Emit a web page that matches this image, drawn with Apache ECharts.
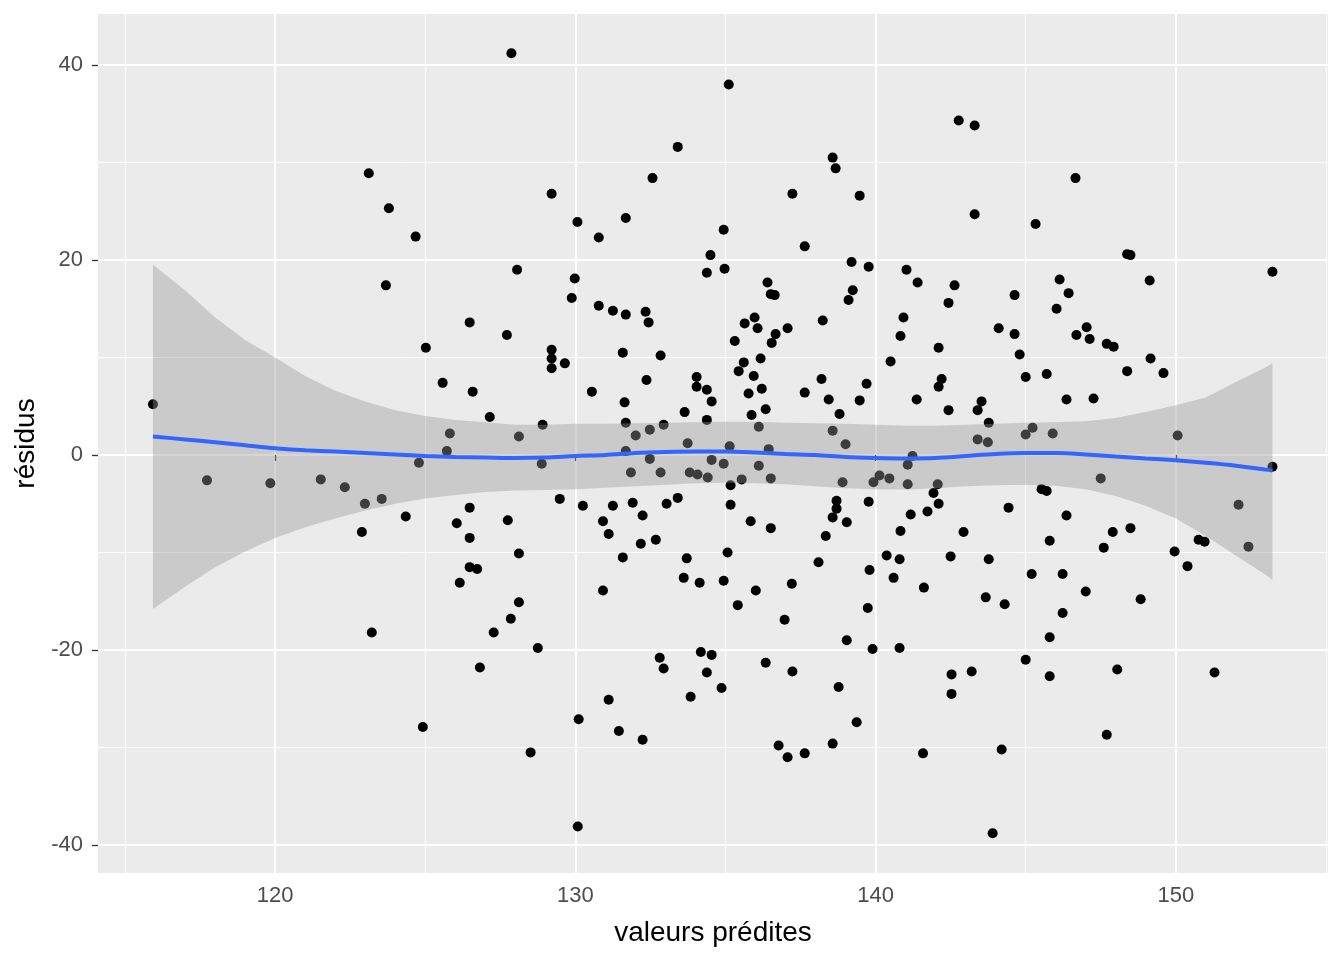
<!DOCTYPE html>
<html>
<head>
<meta charset="utf-8">
<title>résidus vs valeurs prédites</title>
<script src="https://cdn.jsdelivr.net/npm/echarts@6/dist/echarts.min.js"></script>
<style>
  html, body { margin: 0; padding: 0; background: #ffffff; }
  #chart { width: 1344px; height: 960px; }
</style>
</head>
<body>
<div id="chart"></div>
<script>
// valeurs predites (x) et residus (y)
var predites = [
  115.93, 117.73, 119.84, 121.52, 122.32, 122.99, 123.55, 122.89, 123.22, 123.12,
  123.79, 123.69, 124.68, 124.35, 124.79, 124.92, 125.02, 125.58, 125.72, 125.82,
  126.05, 126.15, 126.48, 126.48, 126.48, 126.48, 126.58, 126.73, 126.82, 127.15,
  127.28, 127.72, 127.75, 127.85, 127.87, 128.06, 128.12, 128.12, 128.12, 128.51,
  128.75, 128.88, 128.91, 129.21, 129.21, 129.21, 129.21, 129.48, 129.65, 129.88,
  129.98, 130.07, 130.08, 130.11, 130.25, 130.55, 130.78, 130.78, 130.92, 130.92,
  131.11, 131.11, 131.25, 131.25, 131.45, 131.58, 131.58, 131.64, 131.68, 131.68,
  131.68, 131.68, 131.85, 131.91, 132.01, 132.18, 132.24, 132.24, 132.34, 132.37,
  132.44, 132.48, 132.48, 132.57, 132.68, 132.81, 132.84, 132.84, 132.94, 132.94,
  133.04, 133.41, 133.41, 133.61, 133.64, 133.71, 133.74, 133.81, 133.84, 134.04,
  134.04, 134.07, 134.14, 134.18, 134.38, 134.38, 134.38, 134.38, 134.41, 134.50,
  134.54, 134.54, 134.54, 134.87, 134.94, 134.94, 134.94, 134.97, 135.07, 135.11,
  135.14, 135.17, 135.17, 135.31, 135.41, 135.44, 135.54, 135.61, 135.64, 135.77,
  135.84, 135.87, 135.94, 135.97, 136.01, 136.07, 136.11, 136.11, 136.17, 136.21,
  136.34, 136.34, 136.40, 136.44, 136.51, 136.51, 136.51, 136.54, 136.64, 136.67,
  136.77, 136.97, 137.07, 137.07, 137.21, 137.23, 137.23, 137.64, 137.64, 137.64,
  138.10, 138.20, 138.24, 138.34, 138.44, 138.57, 138.57, 138.57, 138.57, 138.67,
  138.70, 138.70, 138.77, 138.80, 138.90, 139.00, 139.04, 139.04, 139.10, 139.20,
  139.24, 139.37, 139.47, 139.47, 139.70, 139.74, 139.77, 139.77, 139.80, 139.90,
  139.93, 140.13, 140.37, 140.46, 140.50, 140.60, 140.80, 140.80, 140.83, 140.83,
  140.93, 141.03, 141.07, 141.07, 141.17, 141.23, 141.37, 141.40, 141.58, 141.61,
  141.73, 141.93, 142.07, 142.10, 142.10, 142.10, 142.20, 142.43, 142.43, 142.50,
  142.53, 142.53, 142.63, 142.77, 142.93, 143.20, 143.30, 143.30, 143.40, 143.40,
  143.53, 143.67, 143.74, 143.77, 143.77, 143.90, 144.10, 144.20, 144.30, 144.43,
  144.63, 144.63, 144.80, 145.00, 145.00, 145.00, 145.20, 145.23, 145.33, 145.53,
  145.70, 145.70, 145.80, 145.80, 145.80, 145.90, 146.03, 146.13, 146.23, 146.23,
  146.36, 146.36, 146.43, 146.66, 146.69, 147.00, 147.03, 147.13, 147.26, 147.50,
  147.60, 147.70, 147.70, 147.90, 147.93, 148.05, 148.38, 148.38, 148.49, 148.49,
  148.83, 149.13, 149.16, 149.59, 149.96, 150.06, 150.39, 150.76, 150.96, 151.29,
  152.09, 152.42, 153.22, 153.22
];
var residus = [
  5.2, -2.6, -2.9, -2.5, -3.3, -5.0, -4.5, -7.9, -18.2, 28.9,
  25.3, 17.4, 22.4, -6.3, -0.8, -27.9, 11.0, 7.4, 0.4, 2.2,
  -7.0, -13.1, 13.6, -5.4, -8.5, -11.5, 6.5, -11.7, -21.8, 3.9,
  -18.2, 12.3, -6.7, -16.8, 41.2, 19.0, 1.9, -10.1, -15.1, -30.5,
  -19.8, -0.9, 3.1, 26.8, 10.8, 9.9, 8.9, -4.5, 9.4, 16.1,
  18.1, 23.9, -38.1, -27.1, -5.2, 6.5, 22.3, 15.3, -6.8, -13.9,
  -8.1, -25.1, 14.8, -5.2, -28.3, 10.5, -10.5, 5.4, 24.3, 14.4,
  3.3, 0.4, -1.8, -4.9, 2.0, -9.1, -6.2, -29.2, 14.7, 7.7,
  13.6, 2.6, -0.4, 28.4, -8.7, -20.8, 10.2, -1.8, 3.1, -21.9,
  -5.0, 31.6, -4.4, -12.6, 4.4, -10.6, 1.2, -1.8, -24.8, 8.0,
  7.0, -2.0, -13.1, -20.2, 18.7, 6.7, 3.6, -22.3, -2.3, 20.5,
  5.5, -0.5, -20.5, -23.9, 23.1, -0.9, -12.9, 19.1, -10.0, 38.0,
  0.9, -3.1, -5.1, 11.7, -15.4, 8.6, -2.5, 9.5, 13.5, 6.3,
  -6.8, 4.1, 8.1, 14.1, -13.9, 13.0, 2.9, -1.1, 9.9, 6.8,
  4.7, -21.3, 17.7, 0.6, 16.5, -2.4, -7.5, 11.5, 16.4, 12.4,
  -29.8, -16.9, 13.0, -31.0, -13.2, 26.8, -22.2, 21.4, 6.4, -30.6,
  -11.0, 7.8, 13.8, -8.3, 5.7, 30.5, 2.5, -6.4, -29.6, 29.4,
  -4.7, -5.5, -23.8, 4.2, -2.8, 1.1, -6.9, -19.0, 15.9, 19.8,
  16.9, -27.4, 26.6, 5.6, 7.3, -15.7, 19.3, -4.8, -11.8, -19.9,
  -2.8, -2.1, -10.3, -2.4, 9.6, -12.6, -10.7, -19.8, 12.2, -7.8,
  14.1, 19.0, -1.0, -3.0, -6.1, -0.1, 5.7, 17.7, -30.6, -13.6,
  -5.8, -3.9, -3.0, 11.0, 7.0, -5.0, 7.8, 15.6, 4.6, -10.4,
  -22.5, -24.5, 17.4, 34.3, -7.9, -22.2, 33.8, 24.7, 4.6, 1.6,
  5.5, -14.6, 1.3, 3.3, -10.7, -38.8, 13.0, -30.2, -15.3, -5.4,
  16.4, 12.4, 10.3, 8.0, 2.1, -21.0, -12.2, 2.8, 23.7, -3.5,
  8.3, -3.7, -8.8, -18.7, -22.7, 2.2, 15.0, 18.0, -12.2, -16.2,
  5.7, -6.2, 16.6, 28.4, 12.3, -14.0, 13.1, 11.9, 5.8, -2.4,
  -9.5, 11.4, -28.7, -7.9, 11.1, -22.0, 20.6, 8.6, 20.5, -7.5,
  -14.8, 17.9, 9.9, 8.4, -9.9, 2.0, -11.4, -8.7, -8.9, -22.3,
  -5.1, -9.4, 18.8, -1.2
];

// courbe loess et son intervalle de confiance
var lissX = [115.93, 117, 118, 119, 120, 121, 122, 123, 124, 125, 126, 127, 128, 129, 130, 131, 132, 133, 134, 135,
  136, 137, 138, 139, 140, 141, 142, 143, 144, 145, 146, 147, 148, 149, 150, 151, 152, 153, 153.22];
var lissY = [1.9, 1.6, 1.3, 1.0, 0.7, 0.5, 0.35, 0.2, 0.05, -0.1, -0.2, -0.25, -0.3, -0.25, -0.1, 0.0, 0.2, 0.3, 0.35, 0.35,
  0.25, 0.1, 0.0, -0.2, -0.3, -0.35, -0.3, -0.1, 0.1, 0.2, 0.2, 0.05, -0.15, -0.35, -0.55, -0.8, -1.1, -1.5, -1.6];
var bandeHaut = [19.5, 16.9, 14.1, 11.8, 10.0, 8.1, 6.6, 5.5, 4.6, 4.0, 3.6, 3.35, 3.1, 3.1, 3.2, 3.2, 3.25, 3.3, 3.35, 3.4,
  3.4, 3.3, 3.25, 3.2, 3.1, 3.0, 3.0, 3.1, 3.2, 3.3, 3.35, 3.45, 3.8, 4.4, 5.1, 5.9, 7.5, 9.0, 9.4];
var bandeBas = [-15.8, -13.5, -11.5, -9.9, -8.5, -7.4, -6.5, -5.7, -5.0, -4.45, -4.1, -3.8, -3.65, -3.6, -3.5, -3.35, -3.2, -3.05, -2.9, -2.85,
  -2.9, -3.0, -3.2, -3.4, -3.5, -3.55, -3.4, -3.2, -3.1, -3.05, -3.15, -3.5, -4.2, -5.2, -6.5, -8.3, -10.3, -12.3, -12.8];

// graduations
var xMajeur = [120, 130, 140, 150];
var xMineur = [115, 125, 135, 145, 155];
var yMajeur = [-40, -20, 0, 20, 40];
var yMineur = [-30, -10, 10, 30];

var FONT = '"Liberation Sans", Arial, sans-serif';
var X_MIN = 114.1, X_MAX = 155.07;
var Y_MIN = -42.87, Y_MAX = 45.23;

var points = predites.map(function(x, i) { return [x, residus[i]]; });
var courbe = lissX.map(function(x, i) { return [x, lissY[i]]; });

function axeX(valeurs, majeur) {
  return {
    type: 'value', min: X_MIN, max: X_MAX, position: 'bottom',
    name: majeur ? 'valeurs prédites' : '', nameLocation: 'middle', nameGap: 46,
    nameTextStyle: {fontFamily: FONT, fontSize: 28, color: '#000000'},
    axisLine: {show: false},
    axisTick: {show: majeur, customValues: valeurs, length: 6, lineStyle: {color: '#333333', width: 1.3}},
    axisLabel: {show: majeur, customValues: valeurs, margin: 12, fontFamily: FONT, fontSize: 22, color: '#4D4D4D'},
    splitLine: {show: true, lineStyle: {color: '#FFFFFF', width: majeur ? 2 : 1}},
    minorSplitLine: {show: false}
  };
}

function axeY(valeurs, majeur) {
  return {
    type: 'value', min: Y_MIN, max: Y_MAX, position: 'left',
    name: majeur ? 'résidus' : '', nameLocation: 'middle', nameGap: 58, nameRotate: 90,
    nameTextStyle: {fontFamily: FONT, fontSize: 28, color: '#000000'},
    axisLine: {show: false},
    axisTick: {show: majeur, customValues: valeurs, length: 6, lineStyle: {color: '#333333', width: 1.3}},
    axisLabel: {show: majeur, customValues: valeurs, margin: 15, fontFamily: FONT, fontSize: 22, color: '#4D4D4D'},
    splitLine: {show: true, lineStyle: {color: '#FFFFFF', width: majeur ? 2 : 1}},
    minorSplitLine: {show: false}
  };
}

var chart = echarts.init(document.getElementById('chart'), null, {renderer: 'canvas'});
chart.setOption({
  animation: false,
  backgroundColor: '#FFFFFF',
  grid: {left: 98, right: 16, top: 14, bottom: 87, show: true, backgroundColor: '#EBEBEB', borderWidth: 0},
  xAxis: [axeX(xMajeur, true), axeX(xMineur, false)],
  yAxis: [axeY(yMajeur, true), axeY(yMineur, false)],
  series: [
    {
      type: 'scatter', xAxisIndex: 0, yAxisIndex: 0, z: 2,
      data: points, symbol: 'circle', symbolSize: 10,
      itemStyle: {color: '#000000', opacity: 1}, silent: true
    },
    {
      // bande de confiance, dessinee par-dessus les points comme ggplot
      type: 'custom', xAxisIndex: 0, yAxisIndex: 0, z: 3, silent: true,
      data: [[lissX[0], lissY[0]]],
      renderItem: function(params, api) {
        var pts = [];
        for (var i = 0; i < lissX.length; i++)
          pts.push(api.coord([lissX[i], bandeHaut[i]]));
        for (var j = lissX.length - 1; j >= 0; j--)
          pts.push(api.coord([lissX[j], bandeBas[j]]));
        return {type: 'polygon', shape: {points: pts}, style: {fill: 'rgba(153,153,153,0.4)'}};
      }
    },
    {
      type: 'line', xAxisIndex: 0, yAxisIndex: 0, z: 4, silent: true,
      data: courbe, showSymbol: false, smooth: 0.3,
      lineStyle: {color: '#3366FF', width: 4}
    }
  ]
});
</script>
</body>
</html>
